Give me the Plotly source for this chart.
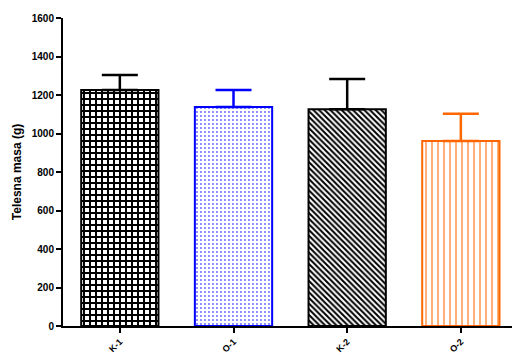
import plotly.graph_objects as go

categories = ["K-1", "O-1", "K-2", "O-2"]
means = [1226, 1138, 1126, 961]
errors = [78, 88, 157, 142]

line_colors = ["#000000", "#0000FF", "#000000", "#FF6600"]
shapes = ["+", ".", "\\", "|"]
sizes = [6, 4, 4, 6]
solid = [0.55, 0.18, 0.5, 0.25]
fgop = [1, 0.6, 1, 0.7]

fig = go.Figure()
for i, c in enumerate(categories):
    fig.add_trace(go.Bar(
        x=[c], y=[means[i]],
        width=0.68,
        marker=dict(
            color="white",
            line=dict(color=line_colors[i], width=2),
            pattern=dict(shape=shapes[i], fgcolor=line_colors[i], bgcolor="white",
                         fgopacity=fgop[i],
                         size=sizes[i], solidity=solid[i], fillmode="overlay"),
        ),
        error_y=dict(type="data", symmetric=False, array=[errors[i]], arrayminus=[0],
                     color=line_colors[i], thickness=2.5, width=18),
        showlegend=False,
    ))

font = "Arial, Liberation Sans, sans-serif"
fig.update_layout(
    template="none",
    width=512, height=355,
    margin=dict(l=63, r=0, t=18, b=29),
    barmode="overlay",
    plot_bgcolor="white", paper_bgcolor="white",
    font=dict(family=font, color="black"),
    xaxis=dict(range=[-0.5, 3.45], showline=True, linewidth=2, linecolor="black",
               ticks="outside", ticklen=5, tickwidth=2, tickcolor="black",
               tickangle=-45, tickfont=dict(size=9, family=font, weight="bold"),
               showgrid=False, zeroline=False, automargin=False),
    yaxis=dict(range=[0, 1600], dtick=200, showline=True, linewidth=2, linecolor="black",
               ticks="outside", ticklen=5, tickwidth=2, tickcolor="black",
               tickfont=dict(size=10, family=font, weight="bold"),
               title=dict(text="Telesna masa (g)", font=dict(size=12, family=font, weight="bold"), standoff=8),
               showgrid=False, zeroline=False, automargin=False),
)
fig.write_html("out.html", config={"displayModeBar": False},
               post_script="document.body.style.margin='0';document.body.style.overflow='hidden';")
